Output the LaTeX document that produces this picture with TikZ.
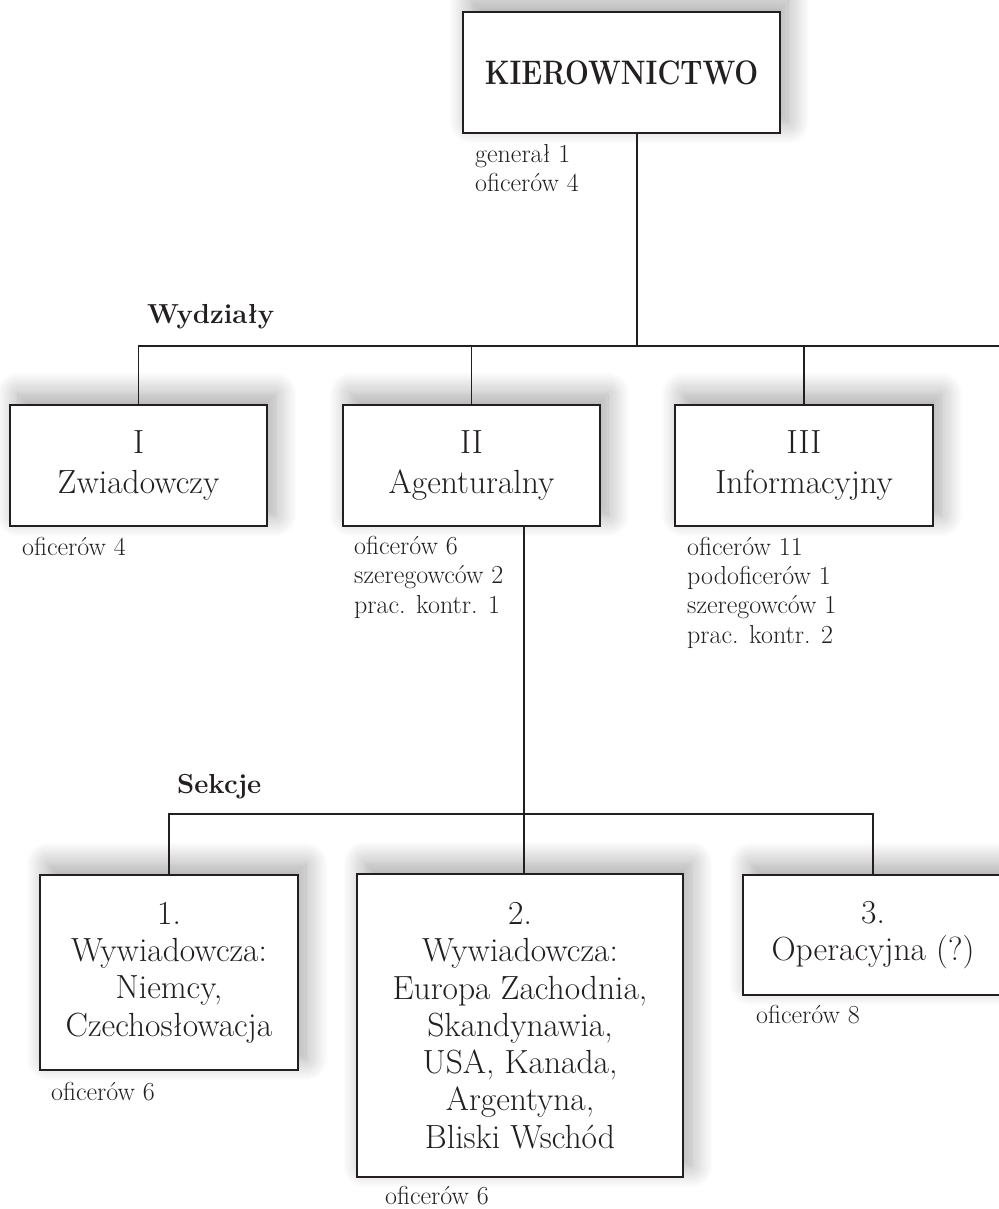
\documentclass[tikz,border=0pt]{standalone}
\usepackage{fontspec}
\usetikzlibrary{shadows.blur}
\definecolor{ink}{RGB}{35,31,32}
\begin{document}
\begin{tikzpicture}[x=1pt,y=-1pt,
  box/.style={draw=ink, line width=1.6pt, fill=white, inner sep=0pt, align=center, text=ink,
    blur shadow={shadow xshift=8pt, shadow yshift=11pt, shadow blur radius=22pt,
      shadow blur steps=24, shadow opacity=36},
    font=\fontsize{33.5}{40}\selectfont},
  secbox/.style={box, font=\fontsize{33.5}{37.3}\selectfont},
  % notes are placed by the baseline of their last line
  note/.style={anchor=base west, align=left, text=ink, inner sep=0pt, font=\fontsize{26}{29.3}\selectfont},
  head/.style={anchor=base west, inner sep=0pt, text=ink, font=\fontsize{27.5}{30}\selectfont\bfseries},
  link/.style={draw=ink, line width=1.4pt}]
\useasboundingbox (0,0) rectangle (998,1209);

% management
\node[box, minimum width=317pt, minimum height=121pt, font=\fontsize{34}{40}\selectfont\bfseries]
  (K) at (621.5,72.5) {\scalebox{0.83}[1]{KIEROWNICTWO}};
\node[note] (Kn) at (475,192) {generał 1\\oficerów 4};

% departments
\node[head] (wyd) at (147,323) {Wydziały};
\node[box, minimum width=257pt, minimum height=121pt] (D1) at (138.5,465.5) {I\\Zwiadowczy};
\node[box, minimum width=257pt, minimum height=121pt] (D2) at (471.5,465.5) {II\\Agenturalny};
\node[box, minimum width=258pt, minimum height=121pt] (D3) at (804,465.5) {III\\Informacyjny};
\node[note] (D1n) at (22,555) {oficerów 4};
\node[note] (D2n) at (354,613) {oficerów 6\\szeregowców 2\\prac. kontr. 1};
\node[note] (D3n) at (687,643) {oficerów 11\\podoficerów 1\\szeregowców 1\\prac. kontr. 2};

% sections
\node[head] (sek) at (177,793) {Sekcje};
\node[secbox, minimum width=258pt, minimum height=195pt] (S1) at (169,972.5)
  {1.\\Wywiadowcza:\\Niemcy,\\Czechosłowacja};
\node[secbox, minimum width=326pt, minimum height=303pt] (S2) at (520,1025.5)
  {2.\\Wywiadowcza:\\Europa Zachodnia,\\Skandynawia,\\USA, Kanada,\\Argentyna,\\Bliski Wschód};
\node[secbox, minimum width=260pt, minimum height=120pt] (S3) at (873,935)
  {3.\\Operacyjna (?)};
\node[note] (S1n) at (51,1100) {oficerów 6};
\node[note] (S2n) at (385,1204) {oficerów 6};
\node[note] (S3n) at (756,1023) {oficerów 8};

% connectors
\coordinate (wh) at (637,346);
\coordinate (wend) at (1001,346);
\coordinate (sh) at (524,814);
\draw[link] (K.south -| wh) -- (wh);
\draw[link] (D1.north) -- (D1.north |- wh) -- (wend);
\draw[link] (D2.north) -- (D2.north |- wh);
\draw[link] (D3.north) -- (D3.north |- wh);
\draw[link] (D2.south -| sh) -- (S2.north -| sh);
\draw[link] (S1.north) -- (S1.north |- sh) -- (S3.north |- sh) -- (S3.north);
\end{tikzpicture}
\end{document}
